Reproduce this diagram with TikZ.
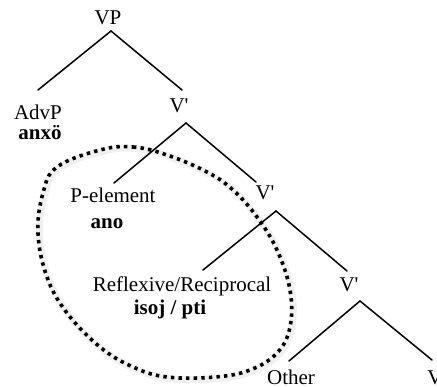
\documentclass[tikz,border=0pt]{standalone}
\usepackage{fontspec}
\setmainfont{Liberation Serif}
\newcommand{\vbar}{V\textquotesingle}
\begin{document}
\begin{tikzpicture}[x=1pt,y=-1pt,
  lbl/.style={inner sep=0pt,anchor=base,font=\fontsize{21}{24}\selectfont},
  word/.style={lbl,font=\fontsize{21}{24}\selectfont\bfseries},
  branch/.style={line width=1.5pt,line cap=round},
  ring/.style={line width=3.6pt,dash pattern=on 3.4pt off 4.2pt},
  halo/.style={line width=7pt,black!6}]
\useasboundingbox (0,0) rectangle (437,387);
\clip (0,0) rectangle (437,387);

% the grouping loop around the two inner specifiers
\def\looppath{plot[smooth cycle,tension=0.65] coordinates {
  (100,150) (133,147) (167,155) (207,172) (233,190) (257,217) (277,250)
  (290,290) (290,327) (277,353) (250,370) (215,377) (167,377) (133,367)
  (100,347) (67,313) (47,277) (38,233) (43,193) (57,167)}}
\draw[halo] [shift={(1.5,1.5)}] \looppath;
\draw[ring] \looppath;

% category labels and words
\node[lbl] (vp)   at (108,25)  {VP};
\node[lbl] (advp) at (38,120)  {AdvP};
\node[word] (anxo) at (40,140) {anxö};
\node[lbl] (v1)   at (179,113) {\vbar};
\node[lbl] (pel)  at (113,203) {P-element};
\node[word] (ano) at (107,229) {ano};
\node[lbl] (v2)   at (265,200) {\vbar};
\node[lbl] (refl) at (182,292) {Reflexive/Reciprocal};
\node[word] (isoj) at (170,315) {isoj / pti};
\node[lbl] (v3)   at (349,292) {\vbar};
\node[lbl] (oth)  at (291,385) {Other};
\node[lbl] (vv)   at (435,385) {V};

% branch end points
\coordinate (vpb)   at (111,31);
\coordinate (advpt) at (38,90);
\coordinate (v1t)   at (182,90);
\coordinate (v1b)   at (186,123);
\coordinate (pelt)  at (114,183);
\coordinate (v2t)   at (256,182);
\coordinate (v2b)   at (276,211);
\coordinate (reflt) at (203,270);
\coordinate (v3t)   at (347,271);
\coordinate (v3b)   at (360,301);
\coordinate (otht)  at (289,361);
\coordinate (vvt)   at (432,360);

\draw[branch] (advpt) -- (vpb) -- (v1t);
\draw[branch] (pelt) -- (v1b) -- (v2t);
\draw[branch] (reflt) -- (v2b) -- (v3t);
\draw[branch] (otht) -- (v3b) -- (vvt);
\end{tikzpicture}
\end{document}
